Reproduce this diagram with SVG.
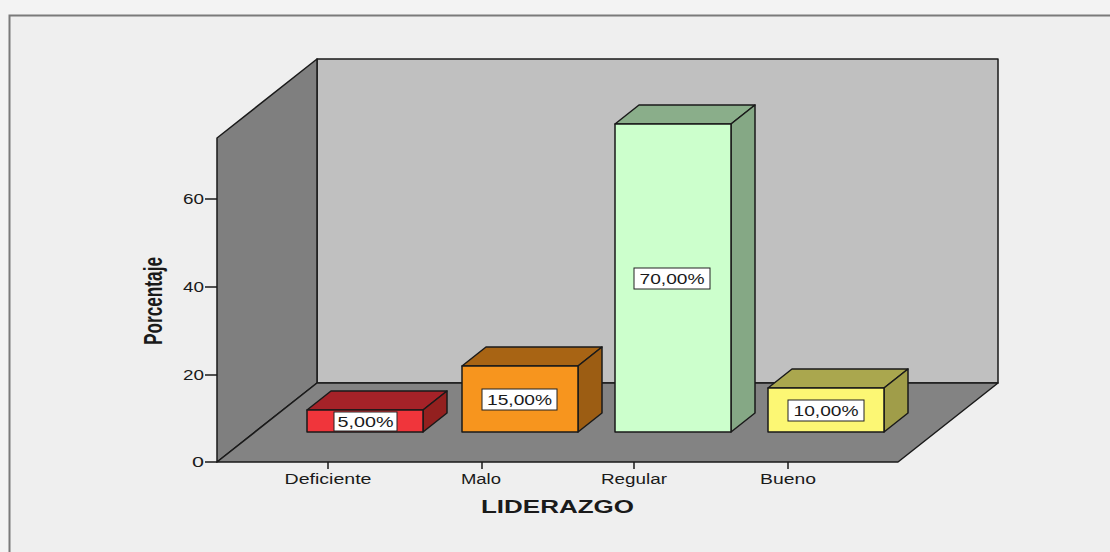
<svg xmlns="http://www.w3.org/2000/svg" width="1110" height="552" viewBox="0 0 1110 552">
<style>
.edge{stroke:#1a1a1a;stroke-width:1.5;stroke-linejoin:round}
.lbl{fill:#fff;stroke:#222;stroke-width:1}
.t{font-family:"Liberation Sans",Arial,sans-serif;fill:#1a1a1a}
.v{font-size:14px;text-anchor:middle}
.cat{font-size:14px;text-anchor:middle}
.yt{font-size:14px;text-anchor:end}
.tick{stroke:#1a1a1a;stroke-width:1.5}
</style>
<rect x="0" y="0" width="1110" height="552" fill="#f3f3f3"/>
<rect x="9" y="15" width="1101" height="537" fill="#efefef"/>
<path d="M9.5,552 V15.5 H1110" fill="none" stroke="#7a7a7a" stroke-width="2"/>
<g id="walls">
<polygon class="edge" points="317,59 998,59 998,383 317,383" fill="#c0c0c0"/>
<polygon class="edge" points="217,138 317,59 317,383 217,462" fill="#7f7f7f"/>
<polygon class="edge" points="217,462 317,383 998,383 898,462" fill="#838383"/>
</g>
<g id="axes">
<line class="tick" x1="205" y1="462" x2="217" y2="462"/>
<line class="tick" x1="205" y1="375" x2="217" y2="375"/>
<line class="tick" x1="205" y1="287" x2="217" y2="287"/>
<line class="tick" x1="205" y1="199" x2="217" y2="199"/>
<text class="t yt" x="204" y="467" textLength="12" lengthAdjust="spacingAndGlyphs">0</text>
<text class="t yt" x="204" y="380" textLength="21" lengthAdjust="spacingAndGlyphs">20</text>
<text class="t yt" x="204" y="292" textLength="21" lengthAdjust="spacingAndGlyphs">40</text>
<text class="t yt" x="204" y="204" textLength="21" lengthAdjust="spacingAndGlyphs">60</text>
<line class="tick" x1="328" y1="462" x2="328" y2="469"/>
<line class="tick" x1="482" y1="462" x2="482" y2="469"/>
<line class="tick" x1="634" y1="462" x2="634" y2="469"/>
<line class="tick" x1="788" y1="462" x2="788" y2="469"/>
<text class="t cat" x="328" y="484" textLength="87" lengthAdjust="spacingAndGlyphs">Deficiente</text>
<text class="t cat" x="481" y="484" textLength="40" lengthAdjust="spacingAndGlyphs">Malo</text>
<text class="t cat" x="634" y="484" textLength="66" lengthAdjust="spacingAndGlyphs">Regular</text>
<text class="t cat" x="788" y="484" textLength="56" lengthAdjust="spacingAndGlyphs">Bueno</text>
<text class="t" x="557.5" y="513" font-size="18" font-weight="bold" text-anchor="middle" textLength="153" lengthAdjust="spacingAndGlyphs">LIDERAZGO</text>
<text class="t" transform="translate(162,301) scale(1.45,1) rotate(-90)" x="0" y="0" font-size="18" font-weight="bold" text-anchor="middle" textLength="88" lengthAdjust="spacingAndGlyphs">Porcentaje</text>
</g>
<g id="bar-deficiente">
<polygon class="edge" points="307,410 331,391 447,391 423,410" fill="#a52228"/>
<polygon class="edge" points="423,410 447,391 447,413 423,432" fill="#93201f"/>
<rect class="edge" x="307" y="410" width="116" height="22" fill="#f0353b"/>
<rect class="lbl" x="334" y="412" width="63" height="19"/>
<text class="t v" x="365.5" y="426.5" textLength="56" lengthAdjust="spacingAndGlyphs">5,00%</text>
</g>
<g id="bar-malo">
<polygon class="edge" points="462,366 486,347 602,347 578,366" fill="#a86414"/>
<polygon class="edge" points="578,366 602,347 602,413 578,432" fill="#9c5d13"/>
<rect class="edge" x="462" y="366" width="116" height="66" fill="#f7951e"/>
<rect class="lbl" x="482" y="389" width="75" height="21"/>
<text class="t v" x="519.5" y="405" textLength="65" lengthAdjust="spacingAndGlyphs">15,00%</text>
</g>
<g id="bar-regular">
<polygon class="edge" points="615,124 639,105 755,105 731,124" fill="#8aae8a"/>
<polygon class="edge" points="731,124 755,105 755,413 731,432" fill="#85a885"/>
<rect class="edge" x="615" y="124" width="116" height="308" fill="#ccffcc"/>
<rect class="lbl" x="634" y="268" width="76" height="21"/>
<text class="t v" x="672" y="284" textLength="65" lengthAdjust="spacingAndGlyphs">70,00%</text>
</g>
<g id="bar-bueno">
<polygon class="edge" points="768,388 792,369 908,369 884,388" fill="#aaa74e"/>
<polygon class="edge" points="884,388 908,369 908,413 884,432" fill="#a09d49"/>
<rect class="edge" x="768" y="388" width="116" height="44" fill="#fcf774"/>
<rect class="lbl" x="788" y="400" width="76" height="21"/>
<text class="t v" x="826" y="416" textLength="65" lengthAdjust="spacingAndGlyphs">10,00%</text>
</g>
</svg>
